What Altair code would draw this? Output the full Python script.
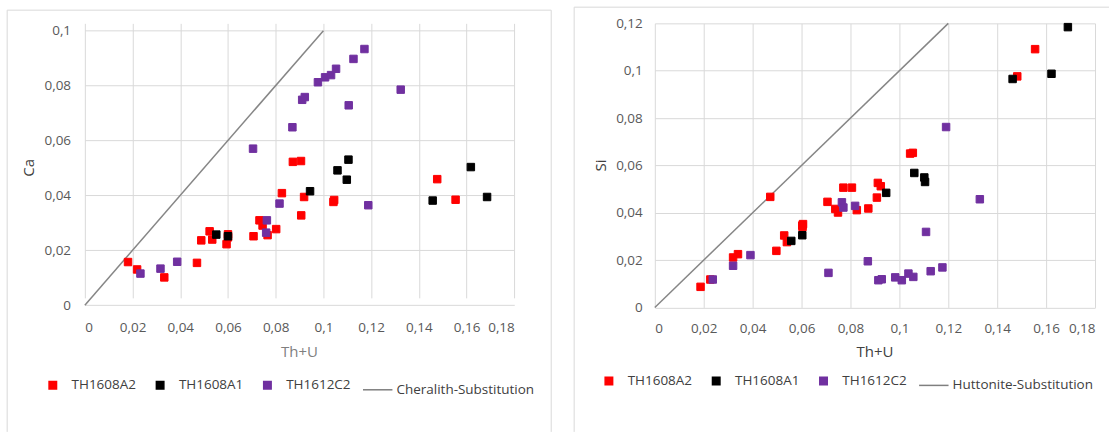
import altair as alt
import pandas as pd

SERIES = ["TH1608A2", "TH1608A1", "TH1612C2"]
COLORS = ["#FF0000", "#000000", "#7030A0", "#7F7F7F"]
X_TICKS = [0, 0.02, 0.04, 0.06, 0.08, 0.1, 0.12, 0.14, 0.16, 0.18]
CA_TICKS = [0, 0.02, 0.04, 0.06, 0.08, 0.1]
SI_TICKS = [0, 0.02, 0.04, 0.06, 0.08, 0.1, 0.12]

# ---- Left panel: Ca vs Th+U ----
ca_a2_x = [0.0181, 0.0219, 0.0333, 0.0470, 0.0488, 0.0523, 0.0534, 0.0600, 0.0600, 0.0594,
           0.0707, 0.0732, 0.0745, 0.0766, 0.0802, 0.0826, 0.0872, 0.0906, 0.0919, 0.0907,
           0.1042, 0.1045, 0.1477, 0.1554]
ca_a2_y = [0.0157, 0.0130, 0.0101, 0.0154, 0.0236, 0.0269, 0.0239, 0.0258, 0.0247, 0.0222,
           0.0251, 0.0309, 0.0290, 0.0255, 0.0277, 0.0408, 0.0522, 0.0525, 0.0394, 0.0327,
           0.0376, 0.0383, 0.0459, 0.0384]
ca_a1_x = [0.0551, 0.0600, 0.0944, 0.1059, 0.1105, 0.1098, 0.1458, 0.1618, 0.1686]
ca_a1_y = [0.0257, 0.0251, 0.0415, 0.0491, 0.0530, 0.0457, 0.0381, 0.0503, 0.0394]
ca_c2_x = [0.0233, 0.0317, 0.0387, 0.0705, 0.0760, 0.0763, 0.0816, 0.0870, 0.0911, 0.0922,
           0.0977, 0.1007, 0.1032, 0.1053, 0.1106, 0.1126, 0.1172, 0.1324, 0.1188]
ca_c2_y = [0.0115, 0.0133, 0.0158, 0.0570, 0.0264, 0.0309, 0.0370, 0.0648, 0.0748, 0.0758,
           0.0812, 0.0830, 0.0838, 0.0861, 0.0728, 0.0897, 0.0933, 0.0785, 0.0364]
cheralith_x = [0, 0.1]
cheralith_y = [0, 0.1]

# ---- Right panel: Si vs Th+U ----
si_a2_x = [0.0187, 0.0227, 0.0320, 0.0340, 0.0472, 0.0497, 0.0529, 0.0540, 0.0603, 0.0606,
           0.0604, 0.0706, 0.0738, 0.0749, 0.0771, 0.0806, 0.0826, 0.0873, 0.0908, 0.0912,
           0.0924, 0.1044, 0.1055, 0.1482, 0.1555]
si_a2_y = [0.0087, 0.0118, 0.0211, 0.0225, 0.0467, 0.0239, 0.0304, 0.0276, 0.0346, 0.0352,
           0.0340, 0.0446, 0.0416, 0.0401, 0.0506, 0.0506, 0.0411, 0.0418, 0.0464, 0.0526,
           0.0512, 0.0650, 0.0653, 0.0976, 0.1091]
si_a1_x = [0.0558, 0.0603, 0.0946, 0.1061, 0.1102, 0.1105, 0.1463, 0.1622, 0.1689]
si_a1_y = [0.0281, 0.0305, 0.0484, 0.0568, 0.0549, 0.0530, 0.0965, 0.0987, 0.1184]
si_c2_x = [0.0237, 0.0320, 0.0391, 0.0710, 0.0765, 0.0771, 0.0819, 0.0871, 0.0914, 0.0928,
           0.0983, 0.1010, 0.1037, 0.1057, 0.1109, 0.1128, 0.1176, 0.1191, 0.1329]
si_c2_y = [0.0118, 0.0176, 0.0221, 0.0146, 0.0444, 0.0422, 0.0429, 0.0195, 0.0115, 0.0119,
           0.0127, 0.0115, 0.0143, 0.0129, 0.0319, 0.0153, 0.0169, 0.0762, 0.0457]
huttonite_x = [0, 0.12]
huttonite_y = [0, 0.12]

FONT = "Open Sans"
GRID = "#D9D9D9"
LABEL_EXPR = "replace(format(datum.value, '~g'), '.', ',')"
ONE = pd.DataFrame({"k": [0]})


def points_frame(xs_list, ys_list):
    rows = []
    for name, xs, ys in zip(SERIES, xs_list, ys_list):
        for xv, yv in zip(xs, ys):
            rows.append({"ThU": xv, "val": yv, "series": name})
    return pd.DataFrame(rows)


def vrule(x, y1, y2):
    return alt.Chart(ONE).mark_rule(color=GRID, strokeWidth=1).encode(
        x=alt.value(x), y=alt.value(y1), y2=alt.value(y2))


def hrule(y, x1, x2):
    return alt.Chart(ONE).mark_rule(color=GRID, strokeWidth=1).encode(
        y=alt.value(y), x=alt.value(x1), x2=alt.value(x2))


def label(text, x, y, color, angle=0):
    return alt.Chart(ONE).mark_text(
        font=FONT, fontSize=15, color=color, angle=angle, align="center",
        baseline="middle").encode(x=alt.value(x), y=alt.value(y), text=alt.value(text))


def panel(df, lx, ly, line_name, ydom, yticks, w, h, yrange,
          xlabel_pad, ylabel_pad, legend_x, legend_y, extras):
    domain = SERIES + [line_name]
    leg = alt.Legend(title=None, orient="none", legendX=legend_x, legendY=legend_y,
                     direction="horizontal", columns=4, padding=0,
                     labelFont=FONT, labelFontSize=13.5, labelColor="#404040",
                     labelOffset=3.3, columnPadding=8.5, symbolStrokeWidth=1.5)
    xax = alt.Axis(values=X_TICKS, labelExpr=LABEL_EXPR, title=None, grid=True,
                   domain=False, ticks=False, labelPadding=xlabel_pad)
    yax = alt.Axis(values=yticks, labelExpr=LABEL_EXPR, title=None, grid=True,
                   domain=False, ticks=False, labelPadding=ylabel_pad)
    xs = alt.Scale(domain=[0, 0.18], nice=False)
    ys = alt.Scale(domain=ydom, nice=False, range=yrange)
    line_df = pd.DataFrame({"ThU": lx, "val": ly})
    line = alt.Chart(line_df).mark_line(color="#868686", strokeWidth=1.5).encode(
        x=alt.X("ThU:Q", scale=xs, axis=xax), y=alt.Y("val:Q", scale=ys, axis=yax))
    pts = alt.Chart(df).mark_point(filled=True, opacity=1, strokeWidth=1).encode(
        x=alt.X("ThU:Q", scale=xs, axis=xax),
        y=alt.Y("val:Q", scale=ys, axis=yax),
        fill=alt.Fill("series:N", scale=alt.Scale(domain=domain, range=COLORS), legend=leg),
        stroke=alt.Stroke("series:N", scale=alt.Scale(domain=domain, range=COLORS), legend=leg),
        shape=alt.Shape("series:N", scale=alt.Scale(domain=domain,
                        range=["square", "square", "square", "stroke"]), legend=leg),
        size=alt.Size("series:N", scale=alt.Scale(type="ordinal", domain=domain,
                      range=[56, 56, 56, 870]), legend=leg),
    )
    return alt.layer(*extras, line, pts).properties(width=w, height=h)


# plot origins of both panels are aligned at y = 22.7 px
left_extras = [
    vrule(-77.8, -13.2, 409.3),
    vrule(467.2, -13.2, 409.3),
    hrule(-13.2, -77.8, 467.2),
    label("Ca", -55.9, 144.8, "#404040", angle=270),
    label("Th+U", 215.1, 328.9, "#7F7F7F"),
]
right_extras = [
    vrule(-80.8, -16.2, 409.3),
    hrule(-16.2, -80.8, 455),
    label("Si", -54.1, 142.3, "#404040", angle=270),
    label("Th+U", 220.5, 329.7, "#404040"),
]

left = panel(points_frame([ca_a2_x, ca_a1_x, ca_c2_x], [ca_a2_y, ca_a1_y, ca_c2_y]),
             cheralith_x, cheralith_y, "Cheralith-Substitution", [0, 0.1], CA_TICKS,
             430.2, 282.3, [282.3, 7.3], 15, 14.3, -47.6, 351.6, left_extras)
right = panel(points_frame([si_a2_x, si_a1_x, si_c2_x], [si_a2_y, si_a1_y, si_c2_y]),
              huttonite_x, huttonite_y, "Huttonite-Substitution", [0, 0.12], SI_TICKS,
              441, 284.6, [284.6, 0], 13.7, 12.6, -61.5, 347.2, right_extras)

chart = alt.hconcat(left, right, spacing=21).resolve_scale(
    x="independent", y="independent", fill="independent", stroke="independent",
    shape="independent", size="independent").resolve_legend(
    fill="independent", stroke="independent", shape="independent", size="independent"
).properties(
    padding={"left": 6, "top": 6, "right": 0, "bottom": 0}
).configure_view(stroke=None).configure_axis(
    gridColor=GRID, gridWidth=1, labelFont=FONT, labelFontSize=13.5, labelColor="#595959"
).configure_legend(labelFont=FONT)

chart.save("out.html", embed_options={"renderer": "svg", "actions": False})
